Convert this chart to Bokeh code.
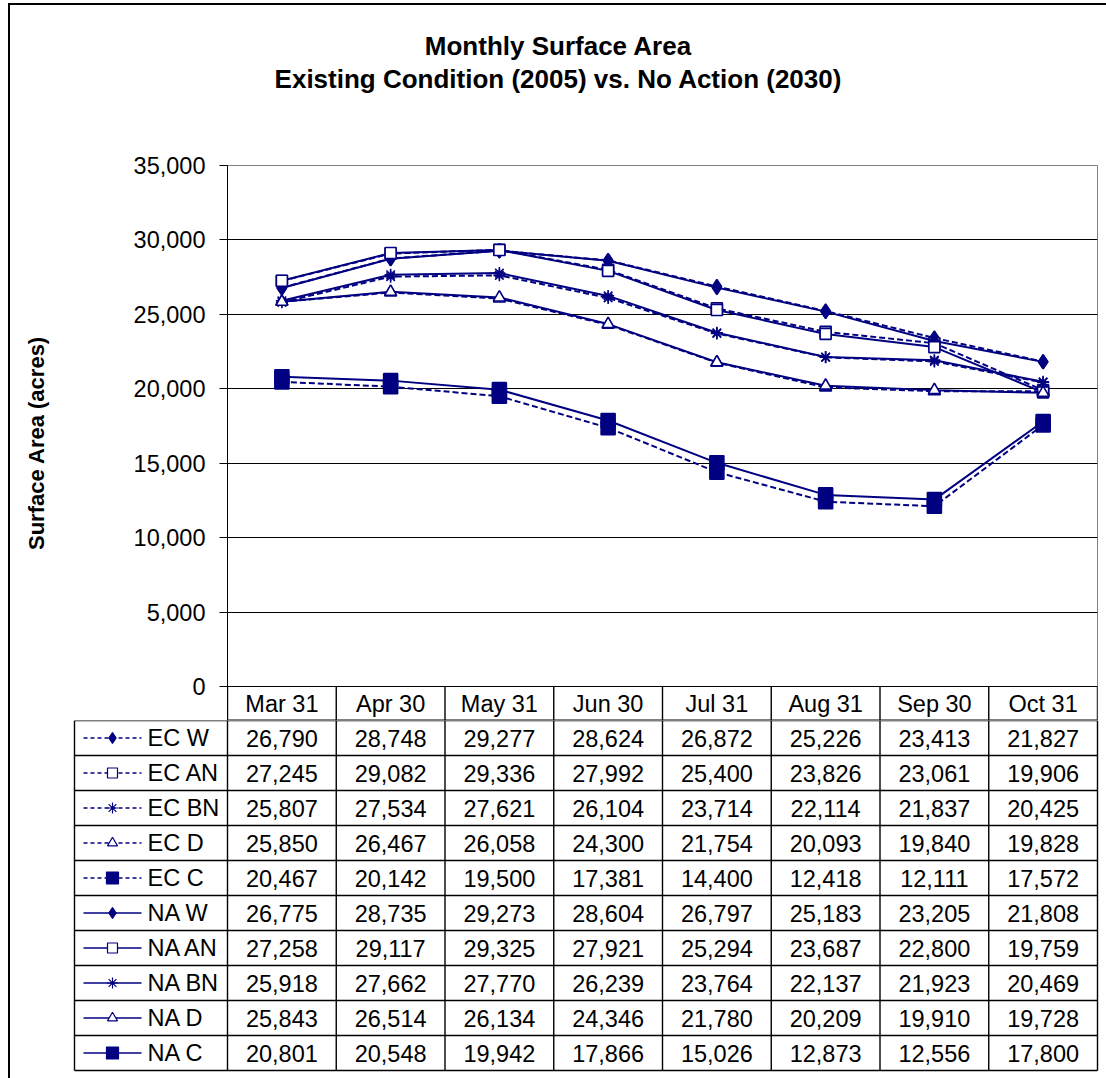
from bokeh.plotting import figure
from bokeh.models import Range1d, FixedTicker, NumeralTickFormatter, Div
from bokeh.layouts import column
from bokeh.embed import file_html
from bokeh.resources import INLINE
from bokeh.core.properties import value

# ---- data -------------------------------------------------------------
months = ["Mar 31", "Apr 30", "May 31", "Jun 30", "Jul 31", "Aug 31", "Sep 30", "Oct 31"]

series_names = ["EC W", "EC AN", "EC BN", "EC D", "EC C",
                "NA W", "NA AN", "NA BN", "NA D", "NA C"]

ec_w = [26790, 28748, 29277, 28624, 26872, 25226, 23413, 21827]
ec_an = [27245, 29082, 29336, 27992, 25400, 23826, 23061, 19906]
ec_bn = [25807, 27534, 27621, 26104, 23714, 22114, 21837, 20425]
ec_d = [25850, 26467, 26058, 24300, 21754, 20093, 19840, 19828]
ec_c = [20467, 20142, 19500, 17381, 14400, 12418, 12111, 17572]
na_w = [26775, 28735, 29273, 28604, 26797, 25183, 23205, 21808]
na_an = [27258, 29117, 29325, 27921, 25294, 23687, 22800, 19759]
na_bn = [25918, 27662, 27770, 26239, 23764, 22137, 21923, 20469]
na_d = [25843, 26514, 26134, 24346, 21780, 20209, 19910, 19728]
na_c = [20801, 20548, 19942, 17866, 15026, 12873, 12556, 17800]

series_values = [ec_w, ec_an, ec_bn, ec_d, ec_c, na_w, na_an, na_bn, na_d, na_c]

y_ticks = list(range(0, 35001, 5000))

# ---- styling ----------------------------------------------------------
NAVY = "#000080"
FONT = "Liberation Sans"
TXT = "23.5px"

# marker, filled, chart size, legend size per year type
STYLE = {
    "W": ("diamond", True, 14, 11),
    "AN": ("square", False, 11, 10),
    "BN": ("asterisk", False, 12, 11),
    "D": ("triangle", False, 12, 10),
    "C": ("square", True, 14, 12),
}

# ---- geometry ---------------------------------------------------------
PLOT_PX = 521            # pixel height of 0..35,000
Y_MAX = 35000
HDR_PX = 34              # header row with month names
TOP_PX = 14
y_min = -HDR_PX * Y_MAX / PLOT_PX
y_hdr = y_min / 2
COL_PX = 870 / len(months)
LEG_W = 153 / COL_PX
PAD = 2 / COL_PX
ROW_PX = 35
ROW_PAD = 2 / ROW_PX
n_rows = len(series_names)

# ---- title -----------------------------------------------------------
title = Div(
    text=('<div style="width:1096px;padding-top:25px;line-height:33px;text-align:center;'
          'font-family:\'Liberation Sans\';font-weight:bold;font-size:26px;color:#000;">'
          'Monthly Surface Area<br>Existing Condition (2005) vs. No Action (2030)</div>'),
    width=1096, height=146, margin=0,
)

# ---- chart -----------------------------------------------------------
chart = figure(
    width=1096, height=TOP_PX + PLOT_PX + HDR_PX,
    x_range=Range1d(0, len(months)), y_range=Range1d(y_min, Y_MAX),
    min_border_left=217, min_border_right=9, min_border_top=TOP_PX, min_border_bottom=0,
    output_backend="svg", toolbar_location=None, frame_align=False, margin=0,
)
chart.background_fill_color = "white"
chart.border_fill_color = "white"
chart.outline_line_color = "#808080"
chart.outline_line_width = 1
chart.xaxis.visible = False
chart.xgrid.visible = False

ya = chart.yaxis[0]
ya.ticker = FixedTicker(ticks=y_ticks)
ya.formatter = NumeralTickFormatter(format="0,0")
ya.major_tick_out = 8
ya.major_tick_in = 0
ya.minor_tick_line_color = None
ya.axis_line_color = "black"
ya.major_tick_line_color = "black"
ya.major_label_standoff = 14
ya.major_label_text_font = FONT
ya.major_label_text_font_size = TXT
ya.major_label_text_color = "black"
ya.axis_label = "Surface Area (acres)"
ya.axis_label_text_font = FONT
ya.axis_label_text_font_style = "bold"
ya.axis_label_text_font_size = "22px"
ya.axis_label_text_color = "black"
ya.axis_label_standoff = 82

chart.ygrid.ticker = FixedTicker(ticks=y_ticks[:-1])
chart.ygrid.grid_line_color = "black"
chart.ygrid.grid_line_width = 1

xs = [i + 0.5 for i in range(len(months))]

for name, vals in zip(series_names, series_values):
    scen, kind = name.split(" ")
    marker, filled, msize, _ = STYLE[kind]
    dash = "6 3" if scen == "EC" else "solid"
    chart.line(xs, vals, line_color=NAVY, line_width=2, line_dash=dash)
    chart.scatter(xs, vals, marker=marker, size=msize, line_color=NAVY,
                  line_width=1.6, fill_color=NAVY if filled else "white")

# header row with month names (continuation of the data table)
chart.segment(x0=list(range(len(months) + 1)), y0=[y_min] * (len(months) + 1),
              x1=list(range(len(months) + 1)), y1=[0] * (len(months) + 1),
              line_color="black", line_width=1.4)
chart.text(x=xs, y=[y_hdr] * len(months), text=months,
           text_font=value(FONT), text_font_size=TXT, text_color="black",
           text_align="center", text_baseline="middle")

# ---- data table ---------------------------------------------------------
table = figure(
    width=1096, height=n_rows * ROW_PX + 2 + 6,
    x_range=Range1d(-LEG_W - PAD, len(months) + PAD),
    y_range=Range1d(n_rows + ROW_PAD, 0),
    min_border_left=62, min_border_right=7, min_border_top=0, min_border_bottom=6,
    output_backend="svg", toolbar_location=None, frame_align=False, margin=0,
)
table.axis.visible = False
table.grid.visible = False
table.outline_line_color = None
table.background_fill_color = "white"
table.border_fill_color = "white"

# horizontal rules
hy = list(range(n_rows + 1))
table.segment(x0=[-LEG_W] * len(hy), y0=hy, x1=[len(months)] * len(hy), y1=hy,
              line_color="black", line_width=1.4)
# vertical rules
vx = [-LEG_W] + list(range(len(months) + 1))
table.segment(x0=vx, y0=[0] * len(vx), x1=vx, y1=[n_rows] * len(vx),
              line_color="black", line_width=1.4)

cell_x, cell_y, cell_t = [], [], []
for r, vals in enumerate(series_values):
    for j, v in enumerate(vals):
        cell_x.append(j + 0.5)
        cell_y.append(r + 0.5)
        cell_t.append(f"{v:,}")
table.text(x=cell_x, y=cell_y, text=cell_t, text_font=value(FONT),
           text_font_size=TXT, text_color="black",
           text_align="center", text_baseline="middle")

# legend keys in the first column
key_x0 = -LEG_W + 9 / COL_PX
key_x1 = -LEG_W + 67 / COL_PX
key_m = -LEG_W + 38 / COL_PX
key_t = -LEG_W + 73 / COL_PX
for r, name in enumerate(series_names):
    scen, kind = name.split(" ")
    marker, filled, _, lsize = STYLE[kind]
    dash = "4 3" if scen == "EC" else "solid"
    yc = r + 0.5
    table.segment(x0=[key_x0], y0=[yc], x1=[key_x1], y1=[yc],
                  line_color=NAVY, line_width=1.6, line_dash=dash)
    table.scatter([key_m], [yc], marker=marker, size=lsize, line_color=NAVY,
                  line_width=1.2, fill_color=NAVY if filled else "white")
table.text(x=[key_t] * n_rows, y=[r + 0.5 for r in range(n_rows)], text=series_names,
           text_font=value(FONT), text_font_size=TXT, text_color="black",
           text_align="left", text_baseline="middle")

layout = column(
    title, chart, table,
    styles={"margin-left": "8px", "margin-top": "3px",
            "border-left": "2px solid black", "border-top": "2px solid black",
            "background-color": "white"},
)

open("out.html", "w").write(file_html(layout, INLINE))
